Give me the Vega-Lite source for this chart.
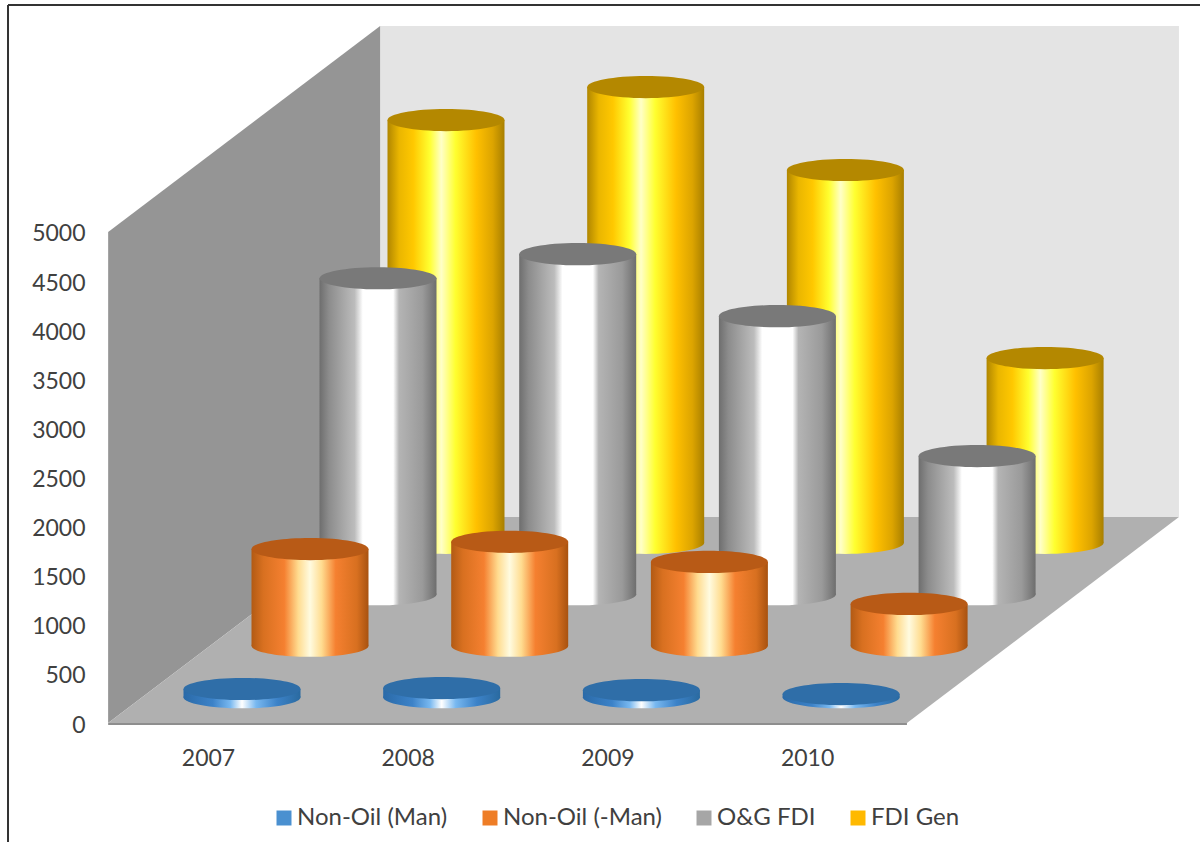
{
  "$schema": "https://vega.github.io/schema/vega-lite/v6.json",
  "width": 1200,
  "height": 842,
  "padding": 0,
  "autosize": {"type": "none"},
  "background": "#ffffff",
  "config": {
    "view": {"stroke": null},
    "axis": {"labelFont": "Lato", "labelFontSize": 23, "labelColor": "#404040", "grid": false, "domain": false, "ticks": false, "title": null}
  },
  "datasets": {
    "fdi": [
      {"year": 2007, "series": "Non-Oil (Man)", "value": 84},
      {"year": 2008, "series": "Non-Oil (Man)", "value": 94},
      {"year": 2009, "series": "Non-Oil (Man)", "value": 72},
      {"year": 2010, "series": "Non-Oil (Man)", "value": 33},
      {"year": 2007, "series": "Non-Oil (-Man)", "value": 985},
      {"year": 2008, "series": "Non-Oil (-Man)", "value": 1058},
      {"year": 2009, "series": "Non-Oil (-Man)", "value": 854},
      {"year": 2010, "series": "Non-Oil (-Man)", "value": 426},
      {"year": 2007, "series": "O&G FDI", "value": 3218},
      {"year": 2008, "series": "O&G FDI", "value": 3463},
      {"year": 2009, "series": "O&G FDI", "value": 2832},
      {"year": 2010, "series": "O&G FDI", "value": 1407},
      {"year": 2007, "series": "FDI Gen", "value": 4305},
      {"year": 2008, "series": "FDI Gen", "value": 4641},
      {"year": 2009, "series": "FDI Gen", "value": 3796},
      {"year": 2010, "series": "FDI Gen", "value": 1881}
    ],
    "sideWall": [
      {"year": 2006.5, "depth": 0, "low": 0, "high": 5000},
      {"year": 2006.5, "depth": 4, "low": 0, "high": 5000}
    ],
    "backWall": [
      {"year": 2006.5, "depth": 4, "low": 0, "high": 5000},
      {"year": 2010.5, "depth": 4, "low": 0, "high": 5000}
    ],
    "floor": [
      {"from": 2006.5, "to": 2010.5, "depth": 0},
      {"from": 2006.5, "to": 2010.5, "depth": 4}
    ],
    "frontEdge": [{"from": 2006.5, "to": 2010.5, "level": -10}],
    "frameTop": [{"from": 2005.9985, "to": 2011.9675, "level": 7311}],
    "frameLeft": [{"at": 2005.9985, "low": -1211.8, "high": 7311}]
  },
  "encoding": {
    "x": {
      "field": "px",
      "type": "quantitative",
      "scale": {"domain": [2005.9584, 2011.9675], "nice": false, "zero": false, "padding": 0},
      "axis": {"orient": "bottom", "values": [2007, 2008, 2009, 2010], "format": "d", "offset": -95, "labelPadding": 0}
    },
    "y": {
      "field": "top",
      "type": "quantitative",
      "stack": null,
      "scale": {"domain": [-1211.8, 7362.5], "nice": false, "zero": false, "padding": 0},
      "axis": {"orient": "left", "values": [0, 500, 1000, 1500, 2000, 2500, 3000, 3500, 4000, 4500, 5000], "format": "d", "offset": -85, "labelPadding": 0, "labelOffset": 2}
    }
  },
  "layer": [
    {
      "data": {"name": "backWall"},
      "transform": [
        {"calculate": "datum.year + datum.depth * 0.3405", "as": "px"},
        {"calculate": "datum.high + datum.depth * 524.4", "as": "top"},
        {"calculate": "datum.low + datum.depth * 524.4", "as": "base"}
      ],
      "mark": {"type": "area", "color": "#e4e4e4"},
      "encoding": {"y2": {"field": "base"}}
    },
    {
      "data": {"name": "sideWall"},
      "transform": [
        {"calculate": "datum.year + datum.depth * 0.3405", "as": "px"},
        {"calculate": "datum.high + datum.depth * 524.4", "as": "top"},
        {"calculate": "datum.low + datum.depth * 524.4", "as": "base"}
      ],
      "mark": {"type": "area", "color": "#959595"},
      "encoding": {"y2": {"field": "base"}}
    },
    {
      "data": {"name": "floor"},
      "transform": [
        {"calculate": "datum.from + datum.depth * 0.3405", "as": "px"},
        {"calculate": "datum.to + datum.depth * 0.3405", "as": "pxEnd"},
        {"calculate": "datum.depth * 524.4", "as": "top"}
      ],
      "mark": {"type": "area", "orient": "horizontal", "color": "#b0b0b0"},
      "encoding": {"x2": {"field": "pxEnd"}}
    },
    {
      "data": {"name": "frontEdge"},
      "mark": {"type": "rule", "color": "#8e8e8e", "strokeWidth": 2},
      "encoding": {
        "x": {"field": "from", "type": "quantitative"},
        "x2": {"field": "to"},
        "y": {"field": "level", "type": "quantitative"}
      }
    },
    {
      "data": {"name": "frameLeft"},
      "mark": {"type": "rule", "color": "#333333", "strokeWidth": 2},
      "encoding": {
        "x": {"field": "at", "type": "quantitative"},
        "y": {"field": "low", "type": "quantitative"},
        "y2": {"field": "high"}
      }
    },
    {
      "data": {"name": "frameTop"},
      "mark": {"type": "rule", "color": "#333333", "strokeWidth": 2},
      "encoding": {
        "x": {"field": "from", "type": "quantitative"},
        "x2": {"field": "to"},
        "y": {"field": "level", "type": "quantitative"}
      }
    },
    {
      "data": {"name": "fdi"},
      "transform": [
        {"calculate": "indexof(['Non-Oil (Man)', 'Non-Oil (-Man)', 'O&G FDI', 'FDI Gen'], datum.series) + 0.5", "as": "depth"},
        {"calculate": "datum.year + datum.depth * 0.3405", "as": "px"},
        {"calculate": "datum.value + datum.depth * 524.4", "as": "top"},
        {"calculate": "datum.depth * 524.4", "as": "base"}
      ],
      "layer": [
        {
          "transform": [{"filter": "datum.series === 'FDI Gen'"}],
          "layer": [
            {
              "mark": {"type": "point", "filled": true, "opacity": 1, "shape": "M-1,0A1,0.19,0,1,1,1,0A1,0.19,0,1,1,-1,0Z", "size": 13689, "fill": {"gradient": "linear", "x1": 0, "x2": 1, "y1": 0, "y2": 0, "stops": [{"offset": 0, "color": "#b08600"}, {"offset": 0.1, "color": "#eab600"}, {"offset": 0.22, "color": "#ffc800"}, {"offset": 0.36, "color": "#ffff30"}, {"offset": 0.46, "color": "#ffffc8"}, {"offset": 0.58, "color": "#ffff30"}, {"offset": 0.76, "color": "#ffc000"}, {"offset": 0.9, "color": "#dca400"}, {"offset": 1, "color": "#a87f00"}]}},
              "encoding": {"y": {"field": "base", "type": "quantitative"}}
            },
            {
              "mark": {"type": "bar", "width": 117, "fill": {"gradient": "linear", "x1": 0, "x2": 1, "y1": 0, "y2": 0, "stops": [{"offset": 0, "color": "#b08600"}, {"offset": 0.1, "color": "#eab600"}, {"offset": 0.22, "color": "#ffc800"}, {"offset": 0.36, "color": "#ffff30"}, {"offset": 0.46, "color": "#ffffc8"}, {"offset": 0.58, "color": "#ffff30"}, {"offset": 0.76, "color": "#ffc000"}, {"offset": 0.9, "color": "#dca400"}, {"offset": 1, "color": "#a87f00"}]}},
              "encoding": {"y2": {"field": "base"}}
            },
            {
              "mark": {"type": "point", "filled": true, "opacity": 1, "shape": "M-1,0A1,0.19,0,1,1,1,0A1,0.19,0,1,1,-1,0Z", "size": 13689, "fill": "#b48800"}
            }
          ]
        },
        {
          "transform": [{"filter": "datum.series === 'O&G FDI'"}],
          "layer": [
            {
              "mark": {"type": "point", "filled": true, "opacity": 1, "shape": "M-1,0A1,0.19,0,1,1,1,0A1,0.19,0,1,1,-1,0Z", "size": 13689, "fill": {"gradient": "linear", "x1": 0, "x2": 1, "y1": 0, "y2": 0, "stops": [{"offset": 0, "color": "#6e6e6e"}, {"offset": 0.08, "color": "#8c8c8c"}, {"offset": 0.3, "color": "#bcbcbc"}, {"offset": 0.37, "color": "#ffffff"}, {"offset": 0.63, "color": "#ffffff"}, {"offset": 0.68, "color": "#b4b4b4"}, {"offset": 0.88, "color": "#9a9a9a"}, {"offset": 1, "color": "#6e6e6e"}]}},
              "encoding": {"y": {"field": "base", "type": "quantitative"}}
            },
            {
              "mark": {"type": "bar", "width": 117, "fill": {"gradient": "linear", "x1": 0, "x2": 1, "y1": 0, "y2": 0, "stops": [{"offset": 0, "color": "#6e6e6e"}, {"offset": 0.08, "color": "#8c8c8c"}, {"offset": 0.3, "color": "#bcbcbc"}, {"offset": 0.37, "color": "#ffffff"}, {"offset": 0.63, "color": "#ffffff"}, {"offset": 0.68, "color": "#b4b4b4"}, {"offset": 0.88, "color": "#9a9a9a"}, {"offset": 1, "color": "#6e6e6e"}]}},
              "encoding": {"y2": {"field": "base"}}
            },
            {
              "mark": {"type": "point", "filled": true, "opacity": 1, "shape": "M-1,0A1,0.19,0,1,1,1,0A1,0.19,0,1,1,-1,0Z", "size": 13689, "fill": "#797979"}
            }
          ]
        },
        {
          "transform": [{"filter": "datum.series === 'Non-Oil (-Man)'"}],
          "layer": [
            {
              "mark": {"type": "point", "filled": true, "opacity": 1, "shape": "M-1,0A1,0.19,0,1,1,1,0A1,0.19,0,1,1,-1,0Z", "size": 13689, "fill": {"gradient": "linear", "x1": 0, "x2": 1, "y1": 0, "y2": 0, "stops": [{"offset": 0, "color": "#b25a14"}, {"offset": 0.1, "color": "#d87020"}, {"offset": 0.28, "color": "#f58030"}, {"offset": 0.4, "color": "#ffdc90"}, {"offset": 0.5, "color": "#fffbe0"}, {"offset": 0.6, "color": "#ffdc90"}, {"offset": 0.72, "color": "#f58030"}, {"offset": 0.9, "color": "#d87020"}, {"offset": 1, "color": "#a85210"}]}},
              "encoding": {"y": {"field": "base", "type": "quantitative"}}
            },
            {
              "mark": {"type": "bar", "width": 117, "fill": {"gradient": "linear", "x1": 0, "x2": 1, "y1": 0, "y2": 0, "stops": [{"offset": 0, "color": "#b25a14"}, {"offset": 0.1, "color": "#d87020"}, {"offset": 0.28, "color": "#f58030"}, {"offset": 0.4, "color": "#ffdc90"}, {"offset": 0.5, "color": "#fffbe0"}, {"offset": 0.6, "color": "#ffdc90"}, {"offset": 0.72, "color": "#f58030"}, {"offset": 0.9, "color": "#d87020"}, {"offset": 1, "color": "#a85210"}]}},
              "encoding": {"y2": {"field": "base"}}
            },
            {
              "mark": {"type": "point", "filled": true, "opacity": 1, "shape": "M-1,0A1,0.19,0,1,1,1,0A1,0.19,0,1,1,-1,0Z", "size": 13689, "fill": "#b85a16"}
            }
          ]
        },
        {
          "transform": [{"filter": "datum.series === 'Non-Oil (Man)'"}],
          "layer": [
            {
              "mark": {"type": "point", "filled": true, "opacity": 1, "shape": "M-1,0A1,0.19,0,1,1,1,0A1,0.19,0,1,1,-1,0Z", "size": 13689, "fill": {"gradient": "linear", "x1": 0, "x2": 1, "y1": 0, "y2": 0, "stops": [{"offset": 0, "color": "#2a6aa8"}, {"offset": 0.25, "color": "#3c82c8"}, {"offset": 0.4, "color": "#78b8f0"}, {"offset": 0.5, "color": "#ffffff"}, {"offset": 0.62, "color": "#78b8f0"}, {"offset": 0.8, "color": "#3c82c8"}, {"offset": 1, "color": "#2a6aa0"}]}},
              "encoding": {"y": {"field": "base", "type": "quantitative"}}
            },
            {
              "mark": {"type": "bar", "width": 117, "fill": {"gradient": "linear", "x1": 0, "x2": 1, "y1": 0, "y2": 0, "stops": [{"offset": 0, "color": "#2a6aa8"}, {"offset": 0.25, "color": "#3c82c8"}, {"offset": 0.4, "color": "#78b8f0"}, {"offset": 0.5, "color": "#ffffff"}, {"offset": 0.62, "color": "#78b8f0"}, {"offset": 0.8, "color": "#3c82c8"}, {"offset": 1, "color": "#2a6aa0"}]}},
              "encoding": {"y2": {"field": "base"}}
            },
            {
              "mark": {"type": "point", "filled": true, "opacity": 1, "shape": "M-1,0A1,0.19,0,1,1,1,0A1,0.19,0,1,1,-1,0Z", "size": 13689, "fill": "#2f6ea8"}
            }
          ]
        },
        {
          "mark": {"type": "point", "filled": true, "shape": "square", "opacity": 0},
          "encoding": {
            "color": {
              "field": "series",
              "type": "nominal",
              "scale": {"domain": ["Non-Oil (Man)", "Non-Oil (-Man)", "O&G FDI", "FDI Gen"], "range": ["#4a90d0", "#ee7d26", "#a6a6a6", "#ffb900"]},
              "legend": {"orient": "none", "legendX": 272, "legendY": 806, "direction": "horizontal", "title": null, "symbolType": "square", "symbolSize": 225, "symbolOpacity": 1, "symbolStrokeWidth": 0, "labelFont": "Lato", "labelFontSize": 24, "labelColor": "#404040", "labelOffset": 1, "columnPadding": 30}
            }
          }
        }
      ]
    }
  ]
}
